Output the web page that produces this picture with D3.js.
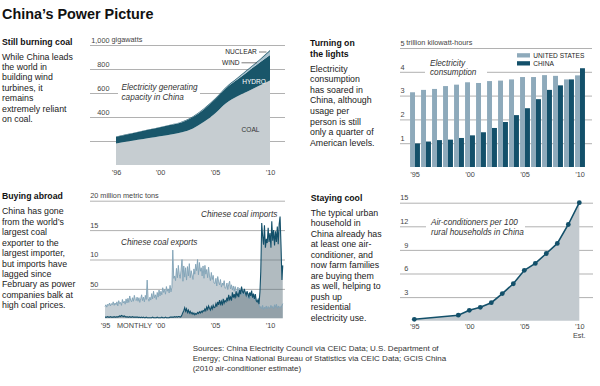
<!DOCTYPE html>
<meta charset="utf-8">
<style>
body { margin: 0; background: #fff; }
text { font-family: "Liberation Sans", Arial, sans-serif; }
</style>
<body>
<script src="https://cdn.jsdelivr.net/npm/d3@7"></script>
<script>

// Generating capacity, gigawatts

var capYears = [1996, 1997, 1998, 1999, 2000, 2001, 2002, 2003, 2004, 2005, 2006, 2007, 2008, 2009, 2010];
var coal    = [180, 195, 210, 225, 240, 255, 272, 305, 360, 430, 515, 570, 615, 660, 705];
var hydro   = [56, 60, 65, 70, 75, 80, 85, 95, 105, 115, 125, 140, 165, 190, 212];
var wind    = [0.1, 0.2, 0.2, 0.3, 0.3, 0.4, 0.5, 0.5, 0.8, 1.3, 2.6, 5.9, 12, 17, 31];
var nuclear = [2.1, 2.1, 2.1, 2.1, 2.1, 2.1, 4.5, 6.2, 7, 7, 7, 9, 9, 9, 11];

// Electricity consumption, trillion kilowatt-hours

var useYears = [1995, 1996, 1997, 1998, 1999, 2000, 2001, 2002, 2003, 2004, 2005, 2006, 2007, 2008, 2009, 2010];
var usUse    = [3.14, 3.24, 3.28, 3.40, 3.46, 3.56, 3.53, 3.61, 3.63, 3.68, 3.78, 3.78, 3.86, 3.83, 3.68, 3.85];
var chinaUse = [0.99, 1.07, 1.13, 1.15, 1.22, 1.33, 1.46, 1.64, 1.89, 2.18, 2.47, 2.85, 3.24, 3.43, 3.68, 4.15];

// Monthly coal trade, million metric tons, Jan 1995 to Mar 2011

var coalExports = [
  2.0, 2.3, 1.9, 2.4, 2.2, 2.6, 2.1, 2.5, 2.3, 2.8, 2.2, 2.6,
  2.3, 2.8, 2.1, 3.0, 2.5, 2.7, 2.2, 3.2, 2.6, 2.9, 2.4, 3.3,
  2.6, 3.4, 2.7, 3.8, 3.1, 2.8, 3.5, 2.9, 3.9, 3.2, 3.0, 3.6,
  2.9, 3.5, 2.7, 3.3, 4.0, 3.0, 3.6, 2.8, 3.9, 3.2, 6.5, 3.4,
  2.9, 3.6, 3.1, 4.2, 3.3, 4.6, 3.5, 4.0, 3.2, 4.4, 3.6, 4.8,
  3.8, 4.6, 4.0, 5.2, 4.4, 4.9, 4.1, 5.4, 4.6, 5.0, 4.3, 5.6,
  4.5, 5.3, 11.6, 6.8, 7.2, 6.4, 8.5, 6.9, 9.0, 7.5, 6.8, 8.2,
  10.0, 6.3, 8.9, 7.0, 8.6, 6.5, 8.8, 7.2, 9.3, 6.9, 8.1, 7.4,
  6.6, 8.4, 7.5, 9.2, 8.1, 10.0, 7.4, 9.5, 8.0, 8.6, 7.2, 8.9,
  6.8, 9.0, 7.5, 8.3, 6.9, 8.7, 7.2, 6.4, 7.8, 6.6, 7.3, 6.0,
  5.9, 6.8, 5.5, 7.1, 6.2, 5.7, 6.6, 5.3, 6.0, 5.6, 6.4, 5.1,
  5.2, 6.0, 4.9, 5.8, 6.3, 5.0, 5.7, 4.8, 5.5, 4.6, 5.4, 4.7,
  4.4, 5.3, 4.1, 5.1, 4.6, 4.0, 5.0, 3.8, 4.7, 4.2, 4.5, 3.6,
  3.4, 4.3, 3.3, 4.1, 3.8, 3.9, 3.5, 3.2, 3.6, 3.0, 2.7, 2.9,
  2.3, 1.8, 2.0, 1.6, 2.2, 1.5, 1.9, 1.7, 2.1, 1.6, 2.0, 1.8,
  1.7, 2.2, 1.8, 2.0, 1.6, 2.3, 1.9, 2.4, 1.7, 2.1, 1.8, 2.0,
  1.8, 2.2, 2.5
];

var coalImports = [
  0.2, 0.2, 0.2, 0.3, 0.2, 0.2, 0.3, 0.2, 0.2, 0.2, 0.3, 0.2,
  0.2, 0.3, 0.2, 0.3, 0.4, 0.3, 0.5, 0.4, 0.3, 0.4, 0.3, 0.2,
  0.3, 0.2, 0.2, 0.3, 0.2, 0.2, 0.3, 0.2, 0.2, 0.2, 0.2, 0.2,
  0.2, 0.1, 0.2, 0.1, 0.2, 0.1, 0.2, 0.1, 0.1, 0.2, 0.1, 0.1,
  0.1, 0.1, 0.1, 0.1, 0.2, 0.1, 0.1, 0.1, 0.1, 0.2, 0.1, 0.1,
  0.1, 0.1, 0.2, 0.1, 0.1, 0.1, 0.2, 0.1, 0.1, 0.1, 0.1, 0.2,
  0.2, 0.2, 0.2, 0.2, 0.3, 0.2, 0.3, 0.2, 0.3, 0.3, 0.2, 0.3,
  0.6, 1.0, 1.3, 1.8, 1.2, 1.6, 1.0, 1.4, 0.9, 1.2, 0.8, 1.0,
  0.7, 0.9, 0.6, 0.8, 0.7, 1.0, 0.8, 1.1, 0.9, 1.2, 1.0, 1.3,
  1.2, 1.6, 1.3, 1.9, 1.5, 2.1, 1.7, 1.4, 2.0, 1.6, 2.2, 1.8,
  1.9, 2.5, 2.0, 2.8, 2.3, 3.1, 2.4, 2.9, 2.2, 3.3, 2.6, 3.0,
  2.8, 3.5, 2.9, 4.0, 3.2, 3.6, 3.0, 4.4, 3.5, 4.1, 3.4, 4.6,
  3.8, 4.2, 3.6, 4.8, 4.1, 5.4, 4.5, 4.3, 5.0, 4.4, 3.9, 4.6,
  4.0, 3.6, 4.4, 3.8, 4.7, 3.5, 4.2, 3.3, 4.1, 3.0, 2.8, 3.2,
  2.4, 4.5, 8.0, 16.2, 14.0, 12.5, 15.8, 12.0, 13.5, 12.8, 15.4, 13.0,
  14.5, 12.0, 16.5, 13.2, 15.0, 12.4, 14.8, 13.0, 15.6, 12.6, 16.0, 17.3,
  12.5, 6.5, 9.0
];

// Air-conditioners per 100 rural households

var acYears = [1995, 1999, 2000, 2001, 2002, 2003, 2004, 2005, 2006, 2007, 2008, 2009, 2010];
var acPer100 = [0.18, 0.7, 1.32, 1.70, 2.29, 3.45, 4.70, 6.40, 7.28, 8.54, 9.82, 12.23, 15.0];

// Text blocks

var coalText = ["While China leads", "the world in", "building wind", "turbines, it", "remains",
    "extremely reliant", "on coal."];
var lightsText = ["Electricity", "consumption", "has soared in", "China, although", "usage per",
    "person is still", "only a quarter of", "American levels."];
var abroadText = ["China has gone", "from the world\u2019s", "largest coal", "exporter to the",
    "largest importer,", "but imports have", "lagged since", "February as power",
    "companies balk at", "high coal prices."];
var coolText = ["The typical urban", "household in", "China already has", "at least one air-",
    "conditioner, and", "now farm families", "are buying them", "as well, helping to",
    "push up", "residential", "electricity use."];
var sourceText = ["Sources: China Electricity Council via CEIC Data; U.S. Department of",
    "Energy; China National Bureau of Statistics via CEIC Data; GCIS China",
    "(2010 air-conditioner estimate)"];

var width = 600,
    height = 386;

var svg = d3.select("body").append("svg")
    .attr("width", width)
    .attr("height", height)
    .style("background", "#fff");

var gridColor = "#a8a8a8",
    axisColor = "#444",
    teal = "#13506a";

function addText(x, y, str, size, opts) {
    opts = opts || {};
    return svg.append("text")
        .attr("x", x)
        .attr("y", y)
        .attr("font-size", size + "px")
        .attr("font-weight", opts.weight || "normal")
        .attr("font-style", opts.style || "normal")
        .attr("fill", opts.fill || "#1a1a1a")
        .attr("text-anchor", opts.anchor || "start")
        .text(str);
}

function paragraph(x, y, lines, step) {
    lines.forEach(function(l, i) {
        addText(x, y + i * step, l, 8.8);
    });
}

// Horizontal gridlines with numbers sitting above them, right-aligned.

function yGrid(scale, ticks, x0, x1, labelEnd, format) {
    var g = svg.append("g")
        .attr("transform", "translate(" + x0 + ",0)")
        .call(d3.axisLeft(scale).tickValues(ticks).tickSize(-(x1 - x0)).tickFormat(format));
    g.select(".domain").remove();
    g.selectAll(".tick line").attr("stroke", gridColor).attr("stroke-width", 0.9);
    g.selectAll(".tick text")
        .attr("x", labelEnd)
        .attr("dy", null)
        .attr("y", -2.8)
        .attr("text-anchor", "end")
        .attr("font-family", "Liberation Sans, Arial, sans-serif")
        .attr("font-size", "7.3px")
        .attr("fill", axisColor);
    return g;
}

function xLabels(axis, y) {
    var g = svg.append("g")
        .attr("transform", "translate(0," + y + ")")
        .call(axis.tickSize(0));
    g.select(".domain").remove();
    g.selectAll(".tick text")
        .attr("dy", null)
        .attr("y", 0)
        .attr("font-family", "Liberation Sans, Arial, sans-serif")
        .attr("font-size", "7.3px")
        .attr("fill", axisColor);
    return g;
}

function yearFormat(d) {
    var yr = d instanceof Date ? d.getFullYear() : d;
    return "\u2019" + String(yr).slice(2);
}

// Title

addText(2, 19, "China\u2019s Power Picture", 14.4, {weight: "bold", fill: "#111"});

// ---- Still burning coal ----

addText(2, 45, "Still burning coal", 8.7, {weight: "bold", fill: "#111"});
paragraph(2, 59.5, coalText, 10.4);

var x1 = d3.scaleLinear().domain([1996, 2010]).range([116, 270]);
var y1 = d3.scaleLinear().domain([0, 1000]).range([165, 45]);

yGrid(y1, [200, 400, 600, 800, 1000], 90, 285, 19.5, function(d) {
    return d === 200 ? "" : d3.format(",")(d);
});
addText(111.5, 42.2, "gigawatts", 7.3, {fill: axisColor});

var capTable = capYears.map(function(yr, i) {
    return {year: yr, coal: coal[i], hydro: hydro[i], wind: wind[i], nuclear: nuclear[i]};
});

var capStack = d3.stack().keys(["coal", "hydro", "wind", "nuclear"])(capTable);
var capColors = {coal: "#c6cdd1", hydro: "#19566a", wind: "#a9c3d0", nuclear: "#2b6377"};

var capArea = d3.area()
    .x(function(d) { return x1(d.data.year); })
    .y0(function(d) { return y1(d[0]); })
    .y1(function(d) { return y1(d[1]); })
    .curve(d3.curveMonotoneX);

svg.append("g").selectAll("path")
    .data(capStack)
    .enter().append("path")
    .attr("d", capArea)
    .attr("fill", function(d) { return capColors[d.key]; });

svg.append("rect")
    .attr("x", 118).attr("y", 82)
    .attr("width", 82).attr("height", 20)
    .attr("fill", "#fff");
addText(121.5, 90.3, "Electricity generating", 8.2, {style: "italic", fill: "#333"});
addText(121.5, 99.8, "capacity in China", 8.2, {style: "italic", fill: "#333"});

addText(256.8, 54, "NUCLEAR", 6.6, {anchor: "end", fill: "#222"});
svg.append("line").attr("x1", 259).attr("x2", 266.5).attr("y1", 52).attr("y2", 52)
    .attr("stroke", "#444").attr("stroke-width", 0.7);
addText(239.5, 65, "WIND", 6.6, {anchor: "end", fill: "#222"});
svg.append("line").attr("x1", 241.5).attr("x2", 257).attr("y1", 62.8).attr("y2", 62.8)
    .attr("stroke", "#444").attr("stroke-width", 0.7);
addText(266, 84.2, "HYDRO", 6.6, {anchor: "end", fill: "#fff"});
addText(259.5, 132.2, "COAL", 6.6, {anchor: "end", fill: "#333"});

xLabels(d3.axisBottom(x1).tickValues([1996, 2000, 2005, 2010]).tickFormat(yearFormat), 175);

// ---- Turning on the lights ----

addText(310, 46, "Turning on", 8.7, {weight: "bold", fill: "#111"});
addText(310, 56.5, "the lights", 8.7, {weight: "bold", fill: "#111"});
paragraph(310, 71.7, lightsText, 10.57);

var x2 = d3.scaleBand().domain(useYears).range([409.5, 585.5]).paddingInner(0.1).paddingOuter(0.05);
var x2s = d3.scaleBand().domain(["us", "china"]).range([0, x2.bandwidth()]);
var y2 = d3.scaleLinear().domain([0, 5]).range([167, 48]);

yGrid(y2, [1, 2, 3, 4, 5], 400, 592, 4.5, d3.format("d"));
addText(406.3, 45, "trillion kilowatt-hours", 7.3, {fill: axisColor});

var useTable = useYears.map(function(yr, i) {
    return {year: yr, us: usUse[i], china: chinaUse[i]};
});
var useColors = {us: "#8eaabb", china: teal};

svg.append("g").selectAll("g")
    .data(useTable)
    .enter().append("g")
    .attr("transform", function(d) { return "translate(" + x2(d.year) + ",0)"; })
    .selectAll("rect")
    .data(function(d) { return ["us", "china"].map(function(k) { return {key: k, value: d[k]}; }); })
    .enter().append("rect")
    .attr("x", function(d) { return x2s(d.key); })
    .attr("width", x2s.bandwidth())
    .attr("y", function(d) { return y2(d.value); })
    .attr("height", function(d) { return y2(0) - y2(d.value); })
    .attr("fill", function(d) { return useColors[d.key]; });

svg.append("rect")
    .attr("x", 425).attr("y", 57)
    .attr("width", 62).attr("height", 21)
    .attr("fill", "#fff");
addText(430, 66, "Electricity", 8.2, {style: "italic", fill: "#333"});
addText(430, 75.3, "consumption", 8.2, {style: "italic", fill: "#333"});

svg.append("rect").attr("x", 517).attr("y", 53.2).attr("width", 13).attr("height", 4.3).attr("fill", useColors.us);
svg.append("rect").attr("x", 517).attr("y", 61.2).attr("width", 13).attr("height", 4.3).attr("fill", useColors.china);
addText(533.3, 57.6, "UNITED STATES", 6.6, {fill: "#222"});
addText(533.3, 65.7, "CHINA", 6.6, {fill: "#222"});

xLabels(d3.axisBottom(x2).tickValues([1995, 2000, 2005, 2010]).tickFormat(yearFormat), 176.5);

// ---- Buying abroad ----

addText(2, 199, "Buying abroad", 8.7, {weight: "bold", fill: "#111"});
paragraph(2, 214.3, abroadText, 10.44);

var months = coalExports.map(function(v, i) { return new Date(1995, i, 1); });
var x3 = d3.scaleTime().domain([new Date(1995, 0, 1), new Date(2010, 0, 1)]).range([105, 270]);
var y3 = d3.scaleLinear().domain([0, 20]).range([318.3, 200.7]);

yGrid(y3, [5, 10, 15, 20], 90, 285, 8.3, function(d) {
    return d === 5 ? "50" : d;
});
addText(100.3, 197.7, "million metric tons", 7.3, {fill: axisColor});

var tradeTable = months.map(function(m, i) {
    return {date: m, exports: coalExports[i], imports: coalImports[i]};
});

function tradeArea(key) {
    return d3.area()
        .x(function(d) { return x3(d.date); })
        .y0(y3(0))
        .y1(function(d) { return y3(d[key]); });
}
function tradeLine(key) {
    return d3.line()
        .x(function(d) { return x3(d.date); })
        .y(function(d) { return y3(d[key]); });
}

svg.append("path").datum(tradeTable)
    .attr("d", tradeArea("exports"))
    .attr("fill", "#c5ced4");
svg.append("path").datum(tradeTable)
    .attr("d", tradeArea("imports"))
    .attr("fill", "#5d707b")
    .attr("fill-opacity", 0.48);
svg.append("path").datum(tradeTable)
    .attr("d", tradeLine("exports"))
    .attr("fill", "none")
    .attr("stroke", "#7fa2b6")
    .attr("stroke-width", 0.9);
svg.append("path").datum(tradeTable)
    .attr("d", tradeLine("imports"))
    .attr("fill", "none")
    .attr("stroke", teal)
    .attr("stroke-width", 1.1);

addText(121, 245, "Chinese coal exports", 8.2, {style: "italic", fill: "#333"});
addText(201, 217, "Chinese coal imports", 8.2, {style: "italic", fill: "#333"});

xLabels(d3.axisBottom(x3)
    .tickValues([new Date(1995, 0, 1), new Date(2000, 0, 1), new Date(2005, 0, 1), new Date(2010, 0, 1)])
    .tickFormat(yearFormat), 327.5);
addText(117, 327.5, "MONTHLY", 7.3, {fill: axisColor});

// ---- Staying cool ----

addText(310.7, 200.7, "Staying cool", 8.7, {weight: "bold", fill: "#111"});
paragraph(310.7, 216, coolText, 10.47);

var x4 = d3.scaleLinear().domain([1995, 2010]).range([414.3, 579.3]);
var y4 = d3.scaleLinear().domain([0, 15]).range([320.7, 202.7]);

yGrid(y4, [3, 6, 9, 12, 15], 400, 593, 8.3, d3.format("d"));

var acTable = acYears.map(function(yr, i) { return {year: yr, value: acPer100[i]}; });

svg.append("path").datum(acTable)
    .attr("d", d3.area()
        .x(function(d) { return x4(d.year); })
        .y0(y4(0))
        .y1(function(d) { return y4(d.value); }))
    .attr("fill", "#c3cacf");

svg.append("path").datum(acTable)
    .attr("d", d3.line()
        .x(function(d) { return x4(d.year); })
        .y(function(d) { return y4(d.value); }))
    .attr("fill", "none")
    .attr("stroke", teal)
    .attr("stroke-width", 1.6);

svg.append("g").selectAll("circle")
    .data(acTable)
    .enter().append("circle")
    .attr("cx", function(d) { return x4(d.year); })
    .attr("cy", function(d) { return y4(d.value); })
    .attr("r", 2.4)
    .attr("fill", teal);

svg.append("rect")
    .attr("x", 426).attr("y", 216)
    .attr("width", 99).attr("height", 22)
    .attr("fill", "#fff");
addText(431, 225, "Air-conditioners per 100", 8.2, {style: "italic", fill: "#333"});
addText(431, 234.5, "rural households in China", 8.2, {style: "italic", fill: "#333"});

xLabels(d3.axisBottom(x4).tickValues([1995, 2000, 2005, 2010]).tickFormat(yearFormat), 328.7);
addText(579.3, 337.6, "Est.", 7.3, {anchor: "middle", fill: axisColor});

// ---- Sources ----

sourceText.forEach(function(l, i) {
    addText(192.7, 351.3 + i * 9.6, l, 8, {fill: "#333"});
});

</script>
